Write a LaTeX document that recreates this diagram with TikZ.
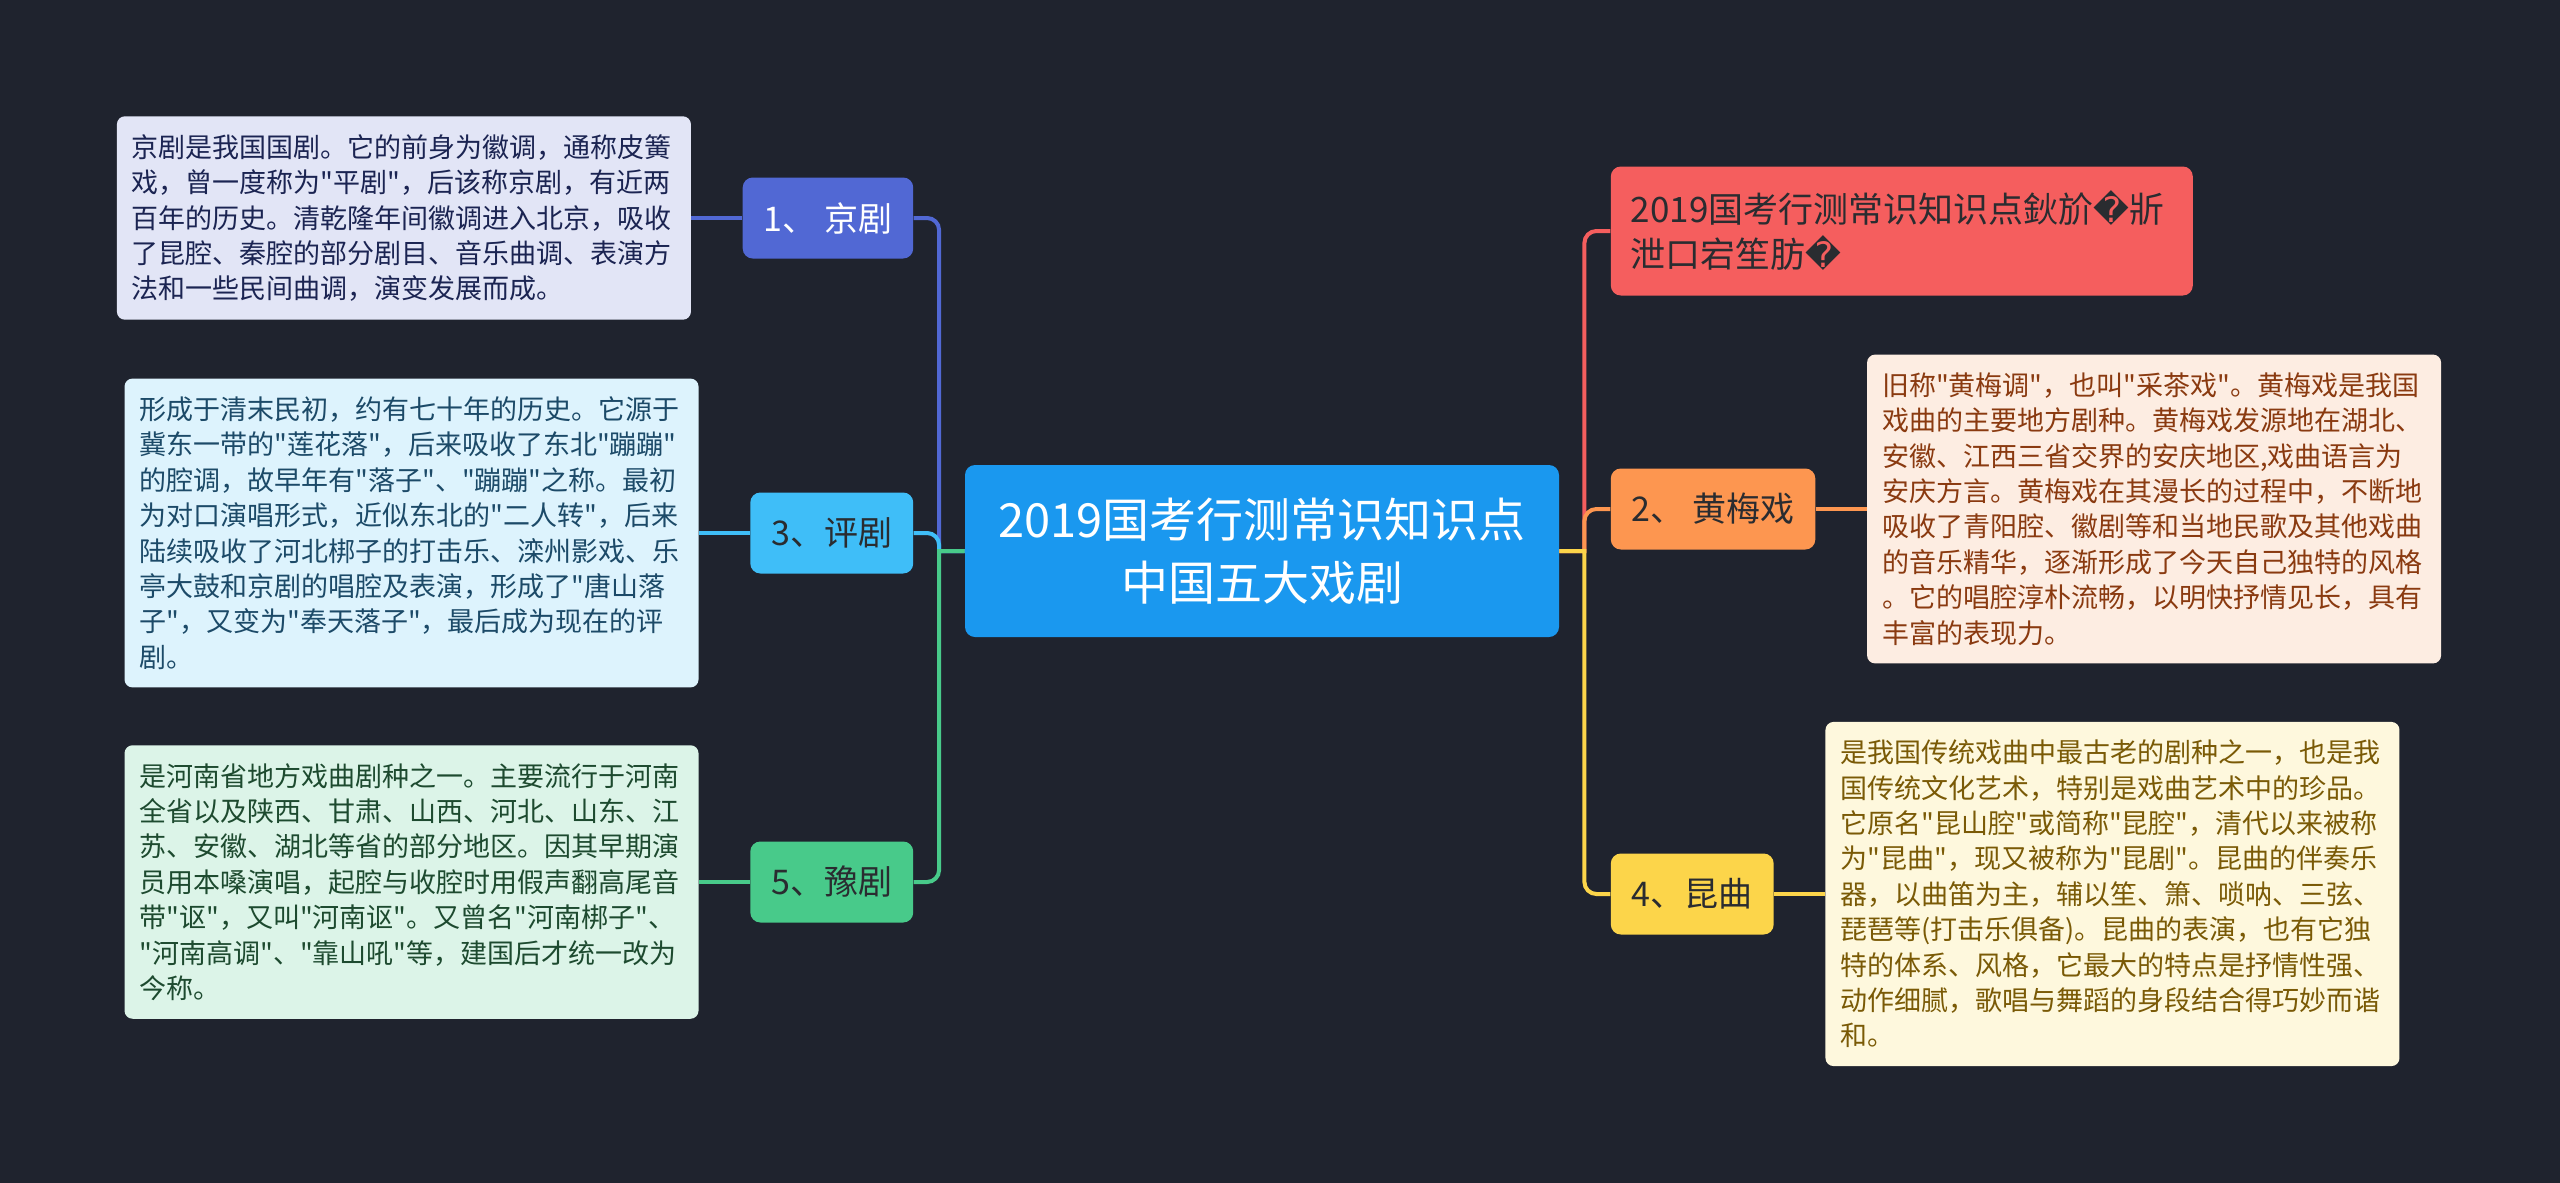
\documentclass[tikz,border=0pt]{standalone}
\usepackage{fontspec}
\setmainfont{Noto Sans CJK SC}[Ligatures=TeXOff]
\newfontfamily\repfont{DejaVu Sans}
\usepackage{tikz}
\usetikzlibrary{positioning, calc}

\definecolor{bgdark}{HTML}{1F232E}
\definecolor{hubblue}{HTML}{1A98EF}
\definecolor{jjblue}{HTML}{5168D4}
\definecolor{pjblue}{HTML}{3FBEF8}
\definecolor{yjgreen}{HTML}{48CA8A}
\definecolor{tred}{HTML}{F55E5E}
\definecolor{hmorange}{HTML}{FD9650}
\definecolor{kqyellow}{HTML}{FCD54A}
\definecolor{darktext}{HTML}{2A2C30}
\definecolor{jjpale}{HTML}{E2E5F6}
\definecolor{jjink}{HTML}{1B2452}
\definecolor{pjpale}{HTML}{DDF3FD}
\definecolor{pjink}{HTML}{1C4A68}
\definecolor{yjpale}{HTML}{DCF4E8}
\definecolor{yjink}{HTML}{1D4A2F}
\definecolor{hmpale}{HTML}{FDEDE2}
\definecolor{hmink}{HTML}{8A3A10}
\definecolor{kqpale}{HTML}{FEF8DD}
\definecolor{kqink}{HTML}{7A5A06}

\tikzset{
  branch/.style={rounded corners=5pt, inner xsep=10.5pt, inner ysep=0pt, minimum height=40.5pt, font=\fontsize{17}{20}\selectfont, text=darktext},
  notebox/.style={rounded corners=4pt, text width=272pt, inner xsep=7.5pt, inner ysep=9pt, align=left, font=\fontsize{13.5}{17.7}\selectfont},
  link/.style={line width=2pt},
}

\begin{document}
\begin{tikzpicture}[x=0.5pt, y=-0.5pt]
            \useasboundingbox (0,0) rectangle (2560,1183);
            \fill[bgdark] (0,0) rectangle (2560,1183);

            \node[fill=hubblue, text=white, rounded corners=5pt, minimum width=297pt, minimum height=86pt, align=center, font=\fontsize{23.5}{31.5}\selectfont] (hub) at (1262,551) {2019国考行测常识知识点\\中国五大戏剧};
            \coordinate (lk) at ([xshift=-12.75pt]hub.west);
            \coordinate (rk) at ([xshift=12.5pt]hub.east);

            \node[branch, fill=jjblue, text=white, left=25.5pt of hub.west, yshift=166.5pt] (jingju) {1、 京剧};
            \node[branch, fill=pjblue, left=25.5pt of hub.west, yshift=9pt] (pingju) {3、评剧};
            \node[branch, fill=yjgreen, left=25.5pt of hub.west, yshift=-165.5pt] (yuju) {5、豫剧};
            \node[branch, fill=tred, text=darktext, right=25.5pt of hub.east, yshift=160pt, text width=271pt, inner xsep=10pt, align=left, minimum height=64.5pt, font=\fontsize{17.5}{22.5}\selectfont] (garbled) {2019国考行测常识知识点鈥斺{\repfont �}斨\\泄口宕笙肪{\repfont �}};
            \node[branch, fill=hmorange, right=25.5pt of hub.east, yshift=21pt] (huangmei) {2、 黄梅戏};
            \node[branch, fill=kqyellow, right=25.5pt of hub.east, yshift=-171.5pt] (kunqu) {4、昆曲};

            \node[notebox, fill=jjpale, text=jjink, left=25.5pt of jingju] (jjnote) {京剧是我国国剧。它的前身为徽调，通称皮簧\\戏，曾一度称为"平剧"，后该称京剧，有近两\\百年的历史。清乾隆年间徽调进入北京，吸收\\了昆腔、秦腔的部分剧目、音乐曲调、表演方\\法和一些民间曲调，演变发展而成。};
            \node[notebox, fill=pjpale, text=pjink, left=25.5pt of pingju] (pjnote) {形成于清末民初，约有七十年的历史。它源于\\冀东一带的"莲花落"，后来吸收了东北"蹦蹦"\\的腔调，故早年有"落子"、"蹦蹦"之称。最初\\为对口演唱形式，近似东北的"二人转"，后来\\陆续吸收了河北梆子的打击乐、滦州影戏、乐\\亭大鼓和京剧的唱腔及表演，形成了"唐山落\\子"，又变为"奉天落子"，最后成为现在的评\\剧。};
            \node[notebox, fill=yjpale, text=yjink, left=25.5pt of yuju] (yjnote) {是河南省地方戏曲剧种之一。主要流行于河南\\全省以及陕西、甘肃、山西、河北、山东、江\\苏、安徽、湖北等省的部分地区。因其早期演\\员用本嗓演唱，起腔与收腔时用假声翻高尾音\\带"讴"，又叫"河南讴"。又曾名"河南梆子"、\\"河南高调"、"靠山吼"等，建国后才统一改为\\今称。};
            \node[notebox, fill=hmpale, text=hmink, right=25.5pt of huangmei] (hmnote) {旧称"黄梅调"，也叫"采茶戏"。黄梅戏是我国\\戏曲的主要地方剧种。黄梅戏发源地在湖北、\\安徽、江西三省交界的安庆地区,戏曲语言为\\安庆方言。黄梅戏在其漫长的过程中，不断地\\吸收了青阳腔、徽剧等和当地民歌及其他戏曲\\的音乐精华，逐渐形成了今天自己独特的风格\\。它的唱腔淳朴流畅，以明快抒情见长，具有\\丰富的表现力。};
            \node[notebox, fill=kqpale, text=kqink, right=25.5pt of kunqu] (kqnote) {是我国传统戏曲中最古老的剧种之一，也是我\\国传统文化艺术，特别是戏曲艺术中的珍品。\\它原名"昆山腔"或简称"昆腔"，清代以来被称\\为"昆曲"，现又被称为"昆剧"。昆曲的伴奏乐\\器，以曲笛为主，辅以笙、箫、唢呐、三弦、\\琵琶等(打击乐俱备)。昆曲的表演，也有它独\\特的体系、风格，它最大的特点是抒情性强、\\动作细腻，歌唱与舞蹈的身段结合得巧妙而谐\\和。};

            \draw[link, jjblue] (hub.west) -- (lk) [rounded corners=6pt] |- (jingju.east);
            \draw[link, pjblue] (hub.west) -- (lk) [rounded corners=6pt] |- (pingju.east);
            \draw[link, yjgreen] (hub.west) -- (lk) [rounded corners=6pt] |- (yuju.east);
            \draw[link, tred] (hub.east) -- (rk) [rounded corners=6pt] |- (garbled.west);
            \draw[link, hmorange] (hub.east) -- (rk) [rounded corners=6pt] |- (huangmei.west);
            \draw[link, kqyellow] (hub.east) -- (rk) [rounded corners=6pt] |- (kunqu.west);

            \draw[link, jjblue] (jingju) -- (jjnote);
            \draw[link, pjblue] (pingju) -- (pjnote);
            \draw[link, yjgreen] (yuju) -- (yjnote);
            \draw[link, hmorange] (huangmei) -- (hmnote);
            \draw[link, kqyellow] (kunqu) -- (kqnote);
        \end{tikzpicture}
\end{document}
